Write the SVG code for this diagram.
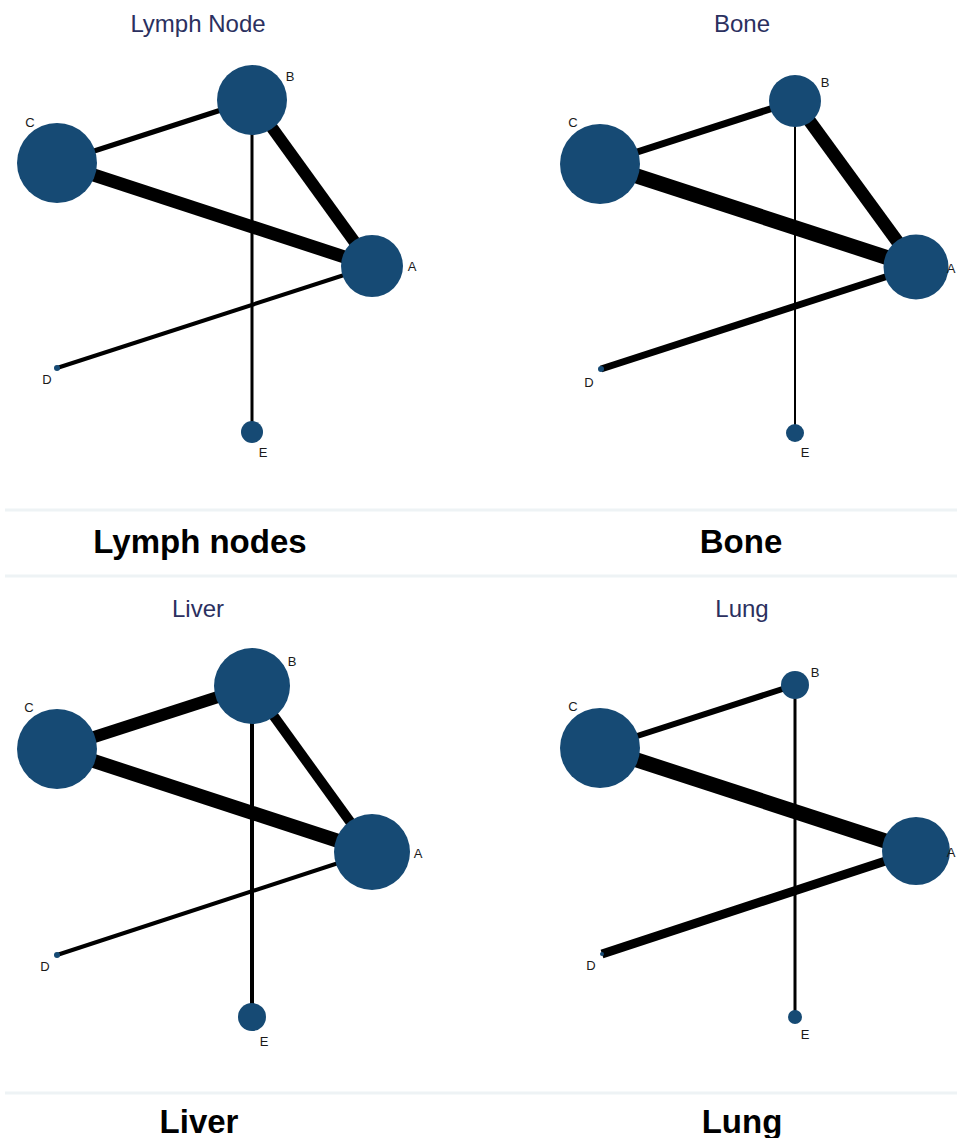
<svg xmlns="http://www.w3.org/2000/svg" width="957" height="1138" viewBox="0 0 957 1138">
<style>
.title{font-family:"Liberation Sans",Arial,sans-serif;font-size:24px;fill:#2b305f;text-anchor:middle}
.cap{font-family:"Liberation Sans",Arial,sans-serif;font-size:33px;font-weight:bold;fill:#000;text-anchor:middle}
.lbl{font-family:"Liberation Sans",Arial,sans-serif;font-size:13px;fill:#1a1a1a;text-anchor:middle}
.node{fill:#164a74}
.edge{stroke:#000;stroke-linecap:butt;fill:none}
.sep{stroke:#eef3f5;stroke-width:3}
</style>
<rect width="957" height="1138" fill="#fff"/>
<g id="separators">
<line class="sep" x1="5" y1="510" x2="957" y2="510"/>
<line class="sep" x1="5" y1="576" x2="957" y2="576"/>
<line class="sep" x1="5" y1="1093" x2="957" y2="1093"/>
</g>
<g id="titles">
<text class="title" x="198" y="32">Lymph Node</text>
<text class="title" x="742" y="32">Bone</text>
<text class="title" x="198" y="617">Liver</text>
<text class="title" x="742" y="617">Lung</text>
</g>
<g id="captions">
<text class="cap" x="200" y="553">Lymph nodes</text>
<text class="cap" x="741" y="553">Bone</text>
<text class="cap" x="199" y="1133">Liver</text>
<text class="cap" x="742" y="1133">Lung</text>
</g>
<g id="connectors">
<!-- Lymph Node -->
<line class="edge" x1="57" y1="163" x2="252" y2="100" stroke-width="5"/>
<line class="edge" x1="57" y1="163" x2="372" y2="266" stroke-width="13"/>
<line class="edge" x1="252" y1="100" x2="372" y2="266" stroke-width="12"/>
<line class="edge" x1="372" y1="266" x2="57" y2="368" stroke-width="4"/>
<line class="edge" x1="252" y1="100" x2="252" y2="432" stroke-width="3"/>
<!-- Bone -->
<line class="edge" x1="600" y1="164" x2="795" y2="101" stroke-width="7"/>
<line class="edge" x1="600" y1="164" x2="916" y2="267" stroke-width="15"/>
<line class="edge" x1="795" y1="101" x2="916" y2="267" stroke-width="13"/>
<line class="edge" x1="916" y1="267" x2="601" y2="369" stroke-width="7"/>
<line class="edge" x1="795" y1="101" x2="795" y2="433" stroke-width="2"/>
<!-- Liver -->
<line class="edge" x1="57" y1="749" x2="252" y2="686" stroke-width="12"/>
<line class="edge" x1="57" y1="749" x2="372" y2="852" stroke-width="14"/>
<line class="edge" x1="252" y1="686" x2="372" y2="852" stroke-width="10"/>
<line class="edge" x1="372" y1="852" x2="57" y2="955" stroke-width="4"/>
<line class="edge" x1="252" y1="686" x2="252" y2="1017" stroke-width="4"/>
<!-- Lung -->
<line class="edge" x1="600" y1="748" x2="795" y2="685" stroke-width="6"/>
<line class="edge" x1="600" y1="748" x2="916" y2="851" stroke-width="15"/>
<line class="edge" x1="916" y1="851" x2="602" y2="954" stroke-width="9"/>
<line class="edge" x1="795" y1="685" x2="795" y2="1017" stroke-width="3"/>
</g>
<g id="lymph-A"><circle class="node" cx="372" cy="266" r="31"/><text class="lbl" x="412" y="271">A</text></g>
<g id="lymph-B"><circle class="node" cx="252" cy="100" r="35"/><text class="lbl" x="290" y="81">B</text></g>
<g id="lymph-C"><circle class="node" cx="57" cy="163" r="40"/><text class="lbl" x="30" y="127">C</text></g>
<g id="lymph-D"><circle class="node" cx="57" cy="368" r="3"/><text class="lbl" x="47" y="384">D</text></g>
<g id="lymph-E"><circle class="node" cx="252" cy="432" r="11"/><text class="lbl" x="263" y="457">E</text></g>

<g id="bone-A"><circle class="node" cx="916" cy="267" r="32.5"/><text class="lbl" x="951" y="273">A</text></g>
<g id="bone-B"><circle class="node" cx="795" cy="101" r="26"/><text class="lbl" x="825" y="87">B</text></g>
<g id="bone-C"><circle class="node" cx="600" cy="164" r="40"/><text class="lbl" x="573" y="127">C</text></g>
<g id="bone-D"><circle class="node" cx="601" cy="369" r="3"/><text class="lbl" x="589" y="387">D</text></g>
<g id="bone-E"><circle class="node" cx="795" cy="433" r="9"/><text class="lbl" x="805" y="457">E</text></g>

<g id="liver-A"><circle class="node" cx="372" cy="852" r="38"/><text class="lbl" x="418" y="858">A</text></g>
<g id="liver-B"><circle class="node" cx="252" cy="686" r="38"/><text class="lbl" x="292" y="666">B</text></g>
<g id="liver-C"><circle class="node" cx="57" cy="749" r="40"/><text class="lbl" x="29" y="712">C</text></g>
<g id="liver-D"><circle class="node" cx="57" cy="955" r="3"/><text class="lbl" x="45" y="971">D</text></g>
<g id="liver-E"><circle class="node" cx="252" cy="1017" r="14"/><text class="lbl" x="264" y="1046">E</text></g>

<g id="lung-A"><circle class="node" cx="916" cy="851" r="34"/><text class="lbl" x="951" y="857">A</text></g>
<g id="lung-B"><circle class="node" cx="795" cy="685" r="14"/><text class="lbl" x="815" y="677">B</text></g>
<g id="lung-C"><circle class="node" cx="600" cy="748" r="40"/><text class="lbl" x="573" y="711">C</text></g>
<g id="lung-D"><circle class="node" cx="602" cy="954" r="2"/><text class="lbl" x="591" y="970">D</text></g>
<g id="lung-E"><circle class="node" cx="795" cy="1017" r="7"/><text class="lbl" x="805" y="1039">E</text></g>
</svg>
